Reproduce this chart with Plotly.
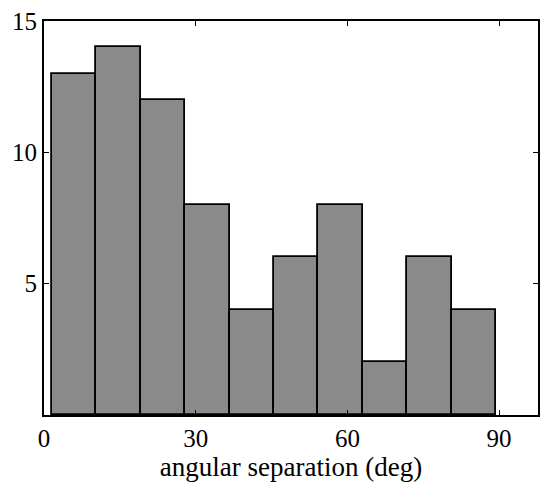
import plotly.graph_objects as go

# Histogram data (angular separation, deg)
bin_edges = [1.5, 10.3, 19.1, 27.9, 36.7, 45.4, 54.2, 63.0, 71.8, 80.6, 89.4]
counts = [13, 14, 12, 8, 4, 6, 8, 2, 6, 4]
x_ticks = [0, 30, 60, 90]
y_ticks = [5, 10, 15]

centers = [(a + b) / 2 for a, b in zip(bin_edges[:-1], bin_edges[1:])]
widths = [b - a for a, b in zip(bin_edges[:-1], bin_edges[1:])]

font_family = "Liberation Serif, Times New Roman, serif"

fig = go.Figure(
    go.Bar(
        x=centers,
        y=counts,
        width=widths,
        marker=dict(color="#8a8a8a", line=dict(color="black", width=1.8)),
    )
)

axis_common = dict(
    showgrid=False,
    zeroline=False,
    showline=True,
    linecolor="black",
    linewidth=1.8,
    mirror="ticks",
    ticks="inside",
    ticklen=5,
    tickwidth=1.3,
    tickcolor="black",
    tickfont=dict(family=font_family, size=25, color="black"),
)

fig.update_layout(
    width=546,
    height=483,
    margin=dict(l=44, r=6, t=21, b=68),
    plot_bgcolor="white",
    paper_bgcolor="white",
    showlegend=False,
    bargap=0,
    xaxis=dict(
        range=[0, 97.7],
        tickvals=x_ticks,
        ticktext=[str(v) for v in x_ticks],
        title=dict(text="angular separation (deg)", font=dict(family=font_family, size=27, color="black"), standoff=2),
        **axis_common,
    ),
    yaxis=dict(
        range=[0, 15],
        tickvals=y_ticks,
        ticktext=[str(v) for v in y_ticks],
        **axis_common,
    ),
)

fig.write_html("out.html")
